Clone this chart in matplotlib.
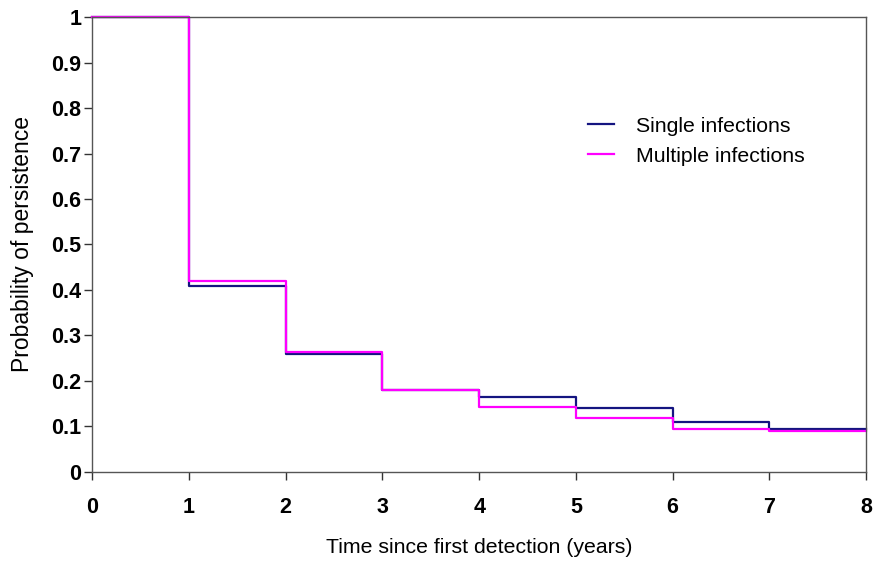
import matplotlib
matplotlib.use("Agg")
import matplotlib.pyplot as plt

plt.rcParams['font.family'] = ['Liberation Sans', 'DejaVu Sans']

years = [0, 1, 2, 3, 4, 5, 6, 7, 8]
single = [1.0, 0.409, 0.260, 0.180, 0.164, 0.140, 0.109, 0.094, 0.094]
multiple = [1.0, 0.420, 0.264, 0.180, 0.142, 0.118, 0.094, 0.090, 0.090]
series_labels = ["Single infections", "Multiple infections"]
yticks = [0, 0.1, 0.2, 0.3, 0.4, 0.5, 0.6, 0.7, 0.8, 0.9, 1]
ytick_labels = ["0", "0.1", "0.2", "0.3", "0.4", "0.5", "0.6", "0.7", "0.8", "0.9", "1"]

fig = plt.figure(figsize=(8.75, 5.61), dpi=100)
ax = fig.add_axes([0.1055, 0.1592, 0.9897 - 0.1055, 0.9692 - 0.1592])

ax.step(years, single, where='post', color='#141480', lw=1.6, label=series_labels[0], clip_on=False)
ax.step(years, multiple, where='post', color='#ff00ff', lw=1.6, label=series_labels[1], clip_on=False)

ax.set_xlim(0, 8)
ax.set_ylim(0, 1)
ax.set_xticks(years)
ax.set_yticks(yticks)
ax.set_yticklabels(ytick_labels)
ax.tick_params(direction='out', length=5.5, width=1, colors='#333333', labelcolor='black', labelsize=15.5)
ax.tick_params(axis='x', pad=13)
ax.tick_params(axis='y', pad=2.5)
for lab in ax.get_xticklabels() + ax.get_yticklabels():
    lab.set_fontweight('bold')
for s in ax.spines.values():
    s.set_color('#555555')
    s.set_linewidth(1)

ax.set_xlabel("Time since first detection (years)", fontsize=15.3, labelpad=14)
ax.set_ylabel("Probability of persistence", fontsize=16.5, labelpad=12)

ax.legend(loc='upper left', bbox_to_anchor=(0.641, 0.781), frameon=False, fontsize=15.3,
          handlelength=1.2, handletextpad=1.05, labelspacing=0.52, borderpad=0, borderaxespad=0)

fig.savefig("out.png", dpi=100)
